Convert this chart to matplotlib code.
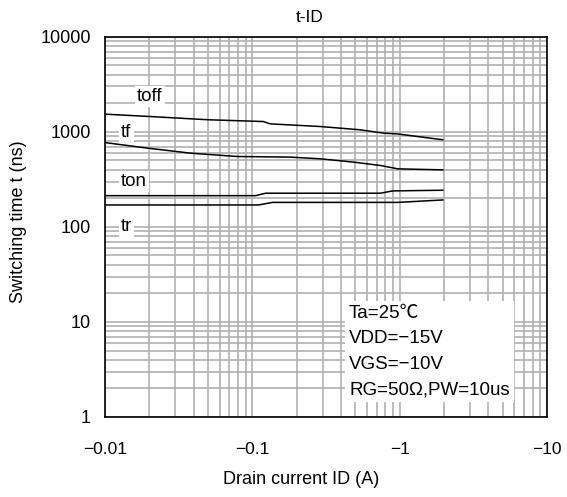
import numpy as np
import matplotlib
matplotlib.use('Agg')
import matplotlib.pyplot as plt
from matplotlib.ticker import FixedLocator, FixedFormatter, LogLocator, NullFormatter

plt.rcParams['font.family'] = ['Liberation Sans', 'Noto Sans CJK JP', 'DejaVu Sans']

# Drain current (A) and switching times (ns)
id_toff = [-0.01, -0.02, -0.05, -0.119, -0.132, -0.29, -0.54, -0.78, -0.97, -1.96]
toff = [1535, 1450, 1340, 1283, 1213, 1137, 1050, 968, 950, 825]

id_tf = [-0.01, -0.0196, -0.0379, -0.0791, -0.181, -0.29, -0.486, -0.743, -0.97, -1.96]
tf = [771, 673, 597, 550, 542, 520, 480, 442, 408, 398]

id_ton = [-0.01, -0.105, -0.123, -0.74, -0.896, -1.96]
ton = [213, 213, 226, 226, 239, 243]

id_tr = [-0.01, -0.11, -0.137, -0.97, -1.96]
tr = [170, 170, 181, 181, 192]

x_ticks = [0.01, 0.1, 1, 10]
x_labels = ['\u22120.01', '\u22120.1', '\u22121', '\u221210']
y_ticks = [1, 10, 100, 1000, 10000]
y_labels = ['1', '10', '100', '1000', '10000']

conditions = 'Ta=25\u2103\nVDD=\u221215V\nVGS=\u221210V\nRG=50\u03a9,PW=10us'

fig = plt.figure(figsize=(5.67, 4.97), dpi=100)
ax = fig.add_axes([0.185, 0.161, 0.78, 0.765])

ax.set_xscale('log')
ax.set_yscale('log')
ax.set_xlim(0.01, 10)
ax.set_ylim(1, 10000)

for xs, ys in [(id_toff, toff), (id_tf, tf), (id_ton, ton), (id_tr, tr)]:
    ax.plot(-np.array(xs), ys, color='black', lw=1.1, zorder=3)

ax.xaxis.set_major_locator(FixedLocator(x_ticks))
ax.xaxis.set_major_formatter(FixedFormatter(x_labels))
ax.yaxis.set_major_locator(FixedLocator(y_ticks))
ax.yaxis.set_major_formatter(FixedFormatter(y_labels))
ax.xaxis.set_minor_locator(LogLocator(base=10, subs=np.arange(2, 10)))
ax.yaxis.set_minor_locator(LogLocator(base=10, subs=np.arange(2, 10)))
ax.xaxis.set_minor_formatter(NullFormatter())
ax.yaxis.set_minor_formatter(NullFormatter())

ax.grid(True, which='both', color='#b0b0b0', lw=1.2, zorder=1)
ax.tick_params(which='both', length=0)
ax.tick_params(axis='x', pad=18, labelsize=12.5)
ax.tick_params(axis='y', pad=10, labelsize=13)
for s in ax.spines.values():
    s.set_linewidth(1.2)

lbl_box = dict(facecolor='white', edgecolor='none', pad=1.5)
ax.text(0.0165, 2335, 'toff', fontsize=13.5, va='center', bbox=lbl_box, zorder=4)
ax.text(0.0129, 977, 'tf', fontsize=13.5, va='center', bbox=lbl_box, zorder=4)
ax.text(0.0128, 300, 'ton', fontsize=13.5, va='center', bbox=lbl_box, zorder=4)
ax.text(0.0128, 101, 'tr', fontsize=13.5, va='center', bbox=lbl_box, zorder=4)

ax.text(0.552, 0.295, conditions, transform=ax.transAxes, fontsize=13.5,
        va='top', ha='left', linespacing=1.65,
        bbox=dict(facecolor='white', edgecolor='none', pad=3), zorder=4)

ax.set_title('t-ID', fontsize=12.5, pad=11, x=0.464)
ax.set_xlabel('Drain current ID (A)', fontsize=13, labelpad=10, x=0.443)
ax.set_ylabel('Switching time t (ns)', fontsize=13, labelpad=10, y=0.513)

fig.savefig('out.png', dpi=100)
